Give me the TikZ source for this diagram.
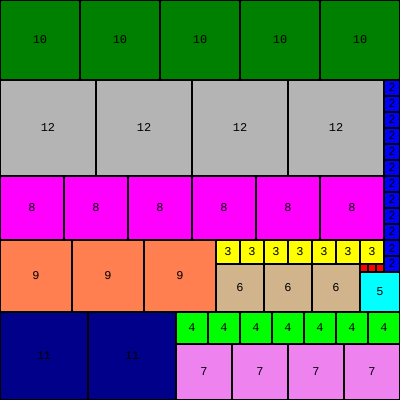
\documentclass[tikz,border=0pt]{standalone}
\usepackage{fontspec}
\setmonofont{Liberation Mono}
\definecolor{tenc}{RGB}{0,128,0}
\definecolor{twelvec}{RGB}{180,180,180}
\definecolor{twoc}{RGB}{0,0,255}
\definecolor{eightc}{RGB}{255,0,255}
\definecolor{ninec}{RGB}{255,127,80}
\definecolor{threec}{RGB}{255,255,0}
\definecolor{sixc}{RGB}{210,180,140}
\definecolor{onec}{RGB}{255,0,0}
\definecolor{fivec}{RGB}{0,255,255}
\definecolor{elevenc}{RGB}{0,0,139}
\definecolor{fourc}{RGB}{0,255,0}
\definecolor{sevenc}{RGB}{238,130,238}
\tikzset{
  sqbox/.style={draw=black, line width=1.4pt},
  lbl/.style={font=\ttfamily\fontsize{8.5}{9}\selectfont, inner sep=0pt},
}
% square at (x,y) with side s, colour c, label
\newcommand{\sq}[4]{%
  \draw[sqbox, fill=#4] (#1,#2) rectangle ++(#3,#3);
  \node[lbl] at ({#1+#3/2},{#2+#3/2}) {#3};}
\newcommand{\sqbare}[4]{%
  \draw[sqbox, fill=#4] (#1,#2) rectangle ++(#3,#3);}

\begin{document}
\begin{tikzpicture}[x=0.2cm, y=-0.2cm]
  \useasboundingbox (0,0) rectangle (50,50);
  \clip (0,0) rectangle (50,50);

  % top rows
  \foreach \i in {0,...,4} {\sq{10*\i}{0}{10}{tenc}}
  \foreach \i in {0,...,3} {\sq{12*\i}{10}{12}{twelvec}}
  \foreach \i in {0,...,11} {\sq{48}{10+2*\i}{2}{twoc}}
  \foreach \i in {0,...,5} {\sq{8*\i}{22}{8}{eightc}}

  % middle band
  \foreach \i in {0,...,2} {\sq{9*\i}{30}{9}{ninec}}
  \foreach \i in {0,...,6} {\sq{27+3*\i}{30}{3}{threec}}
  \foreach \i in {0,...,2} {\sq{27+6*\i}{33}{6}{sixc}}
  \foreach \i in {0,...,2} {\sqbare{45+\i}{33}{1}{onec}}
  \sq{45}{34}{5}{fivec}

  % bottom rows
  \foreach \i in {0,...,1} {\sq{11*\i}{39}{11}{elevenc}}
  \foreach \i in {0,...,6} {\sq{22+4*\i}{39}{4}{fourc}}
  \foreach \i in {0,...,3} {\sq{22+7*\i}{43}{7}{sevenc}}

\end{tikzpicture}
\end{document}
